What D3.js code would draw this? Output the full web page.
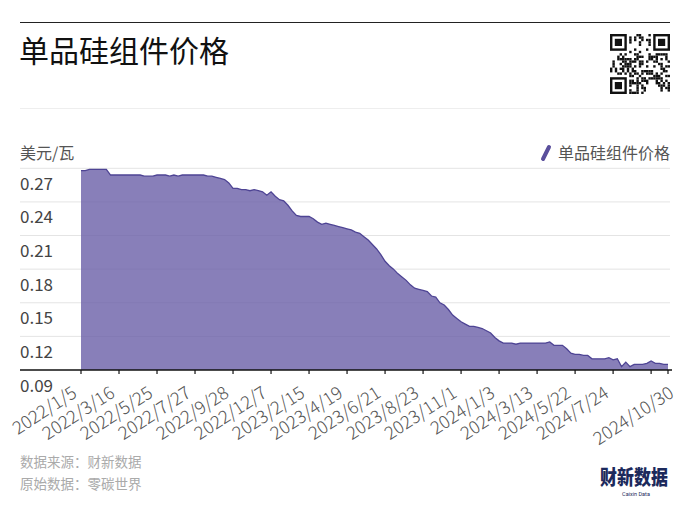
<!DOCTYPE html>
<html><head><meta charset="utf-8">
<script src="https://cdn.jsdelivr.net/npm/d3@7"></script>
<style>
body{margin:0;background:#fff;}
svg{display:block;font-family:"Noto Sans CJK SC","Noto Sans",sans-serif;}
</style>
</head><body><svg id="c" width="690" height="505"></svg>
<script>
const title = "单品硅组件价格";
const unitLabel = "美元/瓦";
const seriesName = "单品硅组件价格";
const sourceLines = ["数据来源：财新数据", "原始数据：零碳世界"];

const dates = [
"2022/1/5","2022/1/12","2022/1/19","2022/1/26","2022/2/9","2022/2/16","2022/2/23","2022/3/2","2022/3/9","2022/3/16",
"2022/3/23","2022/3/30","2022/4/6","2022/4/13","2022/4/20","2022/4/27","2022/5/11","2022/5/18","2022/5/25",
"2022/6/1","2022/6/8","2022/6/15","2022/6/22","2022/6/29","2022/7/6","2022/7/13","2022/7/20","2022/7/27",
"2022/8/3","2022/8/10","2022/8/17","2022/8/24","2022/8/31","2022/9/7","2022/9/14","2022/9/21","2022/9/28",
"2022/10/12","2022/10/19","2022/10/26","2022/11/2","2022/11/9","2022/11/16","2022/11/23","2022/11/30","2022/12/7",
"2022/12/14","2022/12/21","2022/12/28","2023/1/4","2023/1/11","2023/1/18","2023/2/1","2023/2/8","2023/2/15",
"2023/2/22","2023/3/1","2023/3/8","2023/3/15","2023/3/22","2023/3/29","2023/4/5","2023/4/12","2023/4/19",
"2023/4/26","2023/5/3","2023/5/10","2023/5/17","2023/5/24","2023/5/31","2023/6/7","2023/6/14","2023/6/21",
"2023/6/28","2023/7/5","2023/7/12","2023/7/19","2023/7/26","2023/8/2","2023/8/9","2023/8/16","2023/8/23",
"2023/8/30","2023/9/6","2023/9/13","2023/9/20","2023/9/27","2023/10/11","2023/10/18","2023/10/25","2023/11/1",
"2023/11/8","2023/11/15","2023/11/22","2023/11/29","2023/12/6","2023/12/13","2023/12/20","2023/12/27","2024/1/3",
"2024/1/10","2024/1/17","2024/1/24","2024/1/31","2024/2/7","2024/2/21","2024/2/28","2024/3/6","2024/3/13",
"2024/3/20","2024/3/27","2024/4/3","2024/4/10","2024/4/17","2024/4/24","2024/5/8","2024/5/15","2024/5/22",
"2024/5/29","2024/6/5","2024/6/12","2024/6/19","2024/6/26","2024/7/3","2024/7/10","2024/7/17","2024/7/24",
"2024/7/31","2024/8/7","2024/8/14","2024/8/21","2024/8/28","2024/9/4","2024/9/11","2024/9/18","2024/9/25",
"2024/10/9","2024/10/16","2024/10/23","2024/10/30"];

const prices = [
0.268,0.268,0.269,0.269,0.269,0.269,0.269,0.264,0.264,0.264,
0.264,0.264,0.264,0.264,0.264,0.263,0.263,0.263,0.264,
0.264,0.264,0.263,0.264,0.263,0.264,0.264,0.264,0.264,
0.264,0.264,0.263,0.263,0.262,0.261,0.260,0.257,0.252,
0.252,0.251,0.251,0.250,0.251,0.250,0.249,0.246,0.249,
0.245,0.242,0.241,0.237,0.232,0.228,0.227,0.227,0.227,
0.225,0.222,0.220,0.221,0.220,0.219,0.218,0.217,0.216,
0.215,0.213,0.212,0.209,0.206,0.202,0.198,0.193,0.187,
0.183,0.180,0.176,0.173,0.170,0.166,0.163,0.162,0.161,
0.160,0.156,0.155,0.150,0.148,0.144,0.139,0.136,0.133,
0.131,0.129,0.129,0.128,0.127,0.125,0.123,0.119,0.116,
0.114,0.114,0.114,0.113,0.114,0.114,0.114,0.114,0.114,
0.114,0.114,0.115,0.112,0.112,0.112,0.109,0.105,0.104,
0.104,0.103,0.103,0.100,0.100,0.100,0.100,0.101,0.099,
0.100,0.093,0.097,0.093,0.095,0.095,0.095,0.096,0.098,
0.096,0.096,0.095,0.095];

const yTicks = [0.09, 0.12, 0.15, 0.18, 0.21, 0.24, 0.27];
const xLabels = ["2022/1/5","2022/3/16","2022/5/25","2022/7/27","2022/9/28","2022/12/7","2023/2/15","2023/4/19","2023/6/21","2023/8/23","2023/11/1","2024/1/3","2024/3/13","2024/5/22","2024/7/24","2024/10/30"];
const xTickDates = ["2022/1/5","2022/3/16","2022/5/25","2022/7/27","2022/9/28","2022/12/7","2023/2/15","2023/4/19","2023/6/21","2023/8/23","2023/11/1","2024/1/3","2024/3/13","2024/5/22","2024/7/24","2024/9/25","2024/10/30"];

const svg = d3.select("#c");
const data = dates.map((d, i) => ({date: d, v: prices[i]}));

const x = d3.scalePoint().domain(dates).range([81, 668]);
const y = d3.scaleLinear().domain([0.09, 0.27]).range([370, 168.3]);

// faint watermarks
const wm = [[150,150],[300,150],[470,165],[640,175],[90,360],[270,350],[470,320],[635,320],[110,250]];
svg.append("g").selectAll("text").data(wm).join("text")
  .attr("transform", d => `translate(${d[0]},${d[1]}) rotate(-52)`)
  .attr("text-anchor", "middle").attr("font-size", 30).attr("font-weight", 700)
  .attr("fill", "#000").attr("fill-opacity", 0.018).text("财新数据");

// header
svg.append("line").attr("x1", 20).attr("x2", 670).attr("y1", 22.5).attr("y2", 22.5)
  .attr("stroke", "#222").attr("stroke-width", 1.2);
svg.append("text").attr("x", 19).attr("y", 62).text(title)
  .attr("font-size", 30).attr("fill", "#111");
svg.append("line").attr("x1", 20).attr("x2", 670).attr("y1", 108.5).attr("y2", 108.5)
  .attr("stroke", "#eeeeee").attr("stroke-width", 1);

// QR-like block (decorative)
const qr = svg.append("g").attr("transform", "translate(610,34)");
const N = 25, m = 2.4;
qr.append("rect").attr("width", N*m).attr("height", N*m).attr("fill", "#fff");
function finder(cx, cy) {
  qr.append("rect").attr("x", cx*m+m/2).attr("y", cy*m+m/2).attr("width", 6*m).attr("height", 6*m)
    .attr("fill", "none").attr("stroke", "#111").attr("stroke-width", m);
  qr.append("rect").attr("x", (cx+2)*m).attr("y", (cy+2)*m).attr("width", 3*m).attr("height", 3*m).attr("fill", "#111");
}
finder(0,0); finder(N-7,0); finder(0,N-7);
for (let r = 0; r < N; r++) for (let c = 0; c < N; c++) {
  const inF = (r < 8 && c < 8) || (r < 8 && c >= N-8) || (r >= N-8 && c < 8);
  if (inF) continue;
  const h = ((r*131 + c*71 + r*c*17) ^ (r*7 + c*13)) % 7;
  if (h < 3) qr.append("rect").attr("x", c*m).attr("y", r*m).attr("width", m).attr("height", m).attr("fill", "#111");
}

// gridlines
svg.append("g").selectAll("line").data(yTicks.slice(1)).join("line")
  .attr("x1", 20).attr("x2", 670)
  .attr("y1", d => y(d)).attr("y2", d => y(d))
  .attr("stroke", "#e4e4e4").attr("stroke-width", 1);

// area
const area = d3.area().x(d => x(d.date)).y0(y(0.09)).y1(d => y(d.v));
const line = d3.line().x(d => x(d.date)).y(d => y(d.v));
svg.append("path").datum(data).attr("d", area).attr("fill", "#6a5fa8").attr("fill-opacity", 0.8);
svg.append("path").datum(data).attr("d", line).attr("fill", "none")
  .attr("stroke", "#4e4494").attr("stroke-width", 1.3);

// y labels
svg.append("g").selectAll("text").data(yTicks).join("text")
  .attr("x", 20).attr("y", d => y(d) + 21.5)
  .attr("font-size", 17).attr("fill", "#444")
  .text(d => d.toFixed(2));

svg.append("text").attr("x", 20).attr("y", 159).text(unitLabel)
  .attr("font-size", 16).attr("fill", "#555");

// x axis
svg.append("line").attr("x1", 20).attr("x2", 672).attr("y1", 370).attr("y2", 370)
  .attr("stroke", "#111").attr("stroke-width", 1.5);
svg.append("g").selectAll("line").data(xTickDates).join("line")
  .attr("x1", d => x(d)).attr("x2", d => x(d))
  .attr("y1", 370).attr("y2", 374)
  .attr("stroke", "#111").attr("stroke-width", 1.2);
svg.append("g").selectAll("text").data(xLabels).join("text")
  .attr("text-anchor", "end")
  .attr("transform", (d, i) => `translate(${x(d) - 3 + (i === xLabels.length - 1 ? 10 : 0)},${396}) rotate(-33)`)
  .attr("font-size", 18).attr("font-weight", 300).attr("fill", "#555")
  .text(d => d);

// legend
svg.append("line").attr("x1", 543).attr("y1", 159).attr("x2", 549).attr("y2", 147)
  .attr("stroke", "#5a4f9c").attr("stroke-width", 4).attr("stroke-linecap", "round");
svg.append("text").attr("x", 670).attr("y", 159).attr("text-anchor", "end")
  .attr("font-size", 16).attr("fill", "#555").text(seriesName);

// footer
svg.append("g").selectAll("text").data(sourceLines).join("text")
  .attr("x", 20).attr("y", (d, i) => 467 + i * 22)
  .attr("font-size", 13.5).attr("fill", "#aaaaaa").text(d => d);

// logo
svg.append("text").attr("x", 668).attr("y", 485).attr("text-anchor", "end")
  .attr("font-size", 20).attr("font-weight", 900).attr("fill", "#1c2a5c")
  .attr("textLength", 68).attr("lengthAdjust", "spacingAndGlyphs").text("财新数据");
svg.append("text").attr("x", 636).attr("y", 496).attr("text-anchor", "middle")
  .attr("font-size", 5.5).attr("fill", "#1c2a5c").attr("font-family", "Roboto, sans-serif").text("Caixin Data");
</script></body></html>
